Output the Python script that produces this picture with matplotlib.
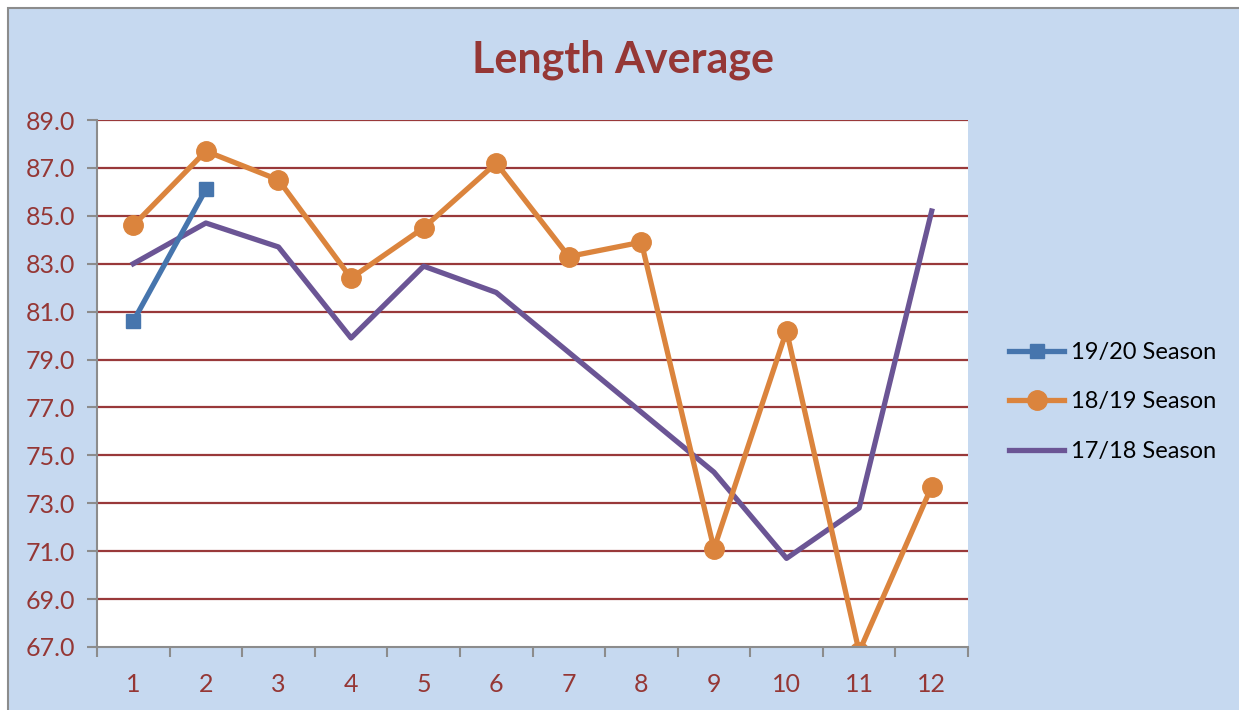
import matplotlib
matplotlib.use("Agg")
import matplotlib.pyplot as plt
from matplotlib.patches import Rectangle

months = list(range(1, 13))
s1920 = [80.6, 86.1]
s1819 = [84.6, 87.7, 86.5, 82.4, 84.5, 87.2, 83.3, 83.9, 71.1, 80.2, 66.8, 73.7]
s1718 = [83.0, 84.7, 83.7, 79.9, 82.9, 81.8, 79.3, 76.8, 74.3, 70.7, 72.8, 85.2]
yticks = [67, 69, 71, 73, 75, 77, 79, 81, 83, 85, 87, 89]

plt.rcParams['font.family'] = ['Lato', 'DejaVu Sans']

W, H = 1239, 710
fig = plt.figure(figsize=(W / 100, H / 100), dpi=100)
fig.patch.set_facecolor('white')
bg = Rectangle((8 / W, -0.01), 1.02, 1 - 8 / H + 0.01, transform=fig.transFigure,
               facecolor='#C6D9F0', edgecolor='#8C8C8C', linewidth=1.5, zorder=-10)
fig.patches.append(bg)

ax = fig.add_axes([97 / W, 1 - 647 / H, (968 - 97) / W, (647 - 120) / H])
ax.set_facecolor('white')

red = '#953735'
c_blue = '#4675AD'
c_orange = '#DB843D'
c_purple = '#6B5595'

for y in yticks[1:]:
    ax.axhline(y, color='#99393A', linewidth=1.6, zorder=1)

ax.plot(months[:len(s1920)], s1920, color=c_blue, lw=3.8, marker='s', ms=10.5,
        label='19/20 Season', zorder=5)
ax.plot(months, s1819, color=c_orange, lw=3.8, marker='o', ms=14,
        label='18/19 Season', zorder=4)
ax.plot(months, s1718, color=c_purple, lw=3.8, label='17/18 Season', zorder=3)

ax.set_xlim(0.5, 12.5)
ax.set_ylim(67, 89)
ax.set_yticks(yticks)
ax.set_yticklabels([f"{v:.1f}" for v in yticks])
ax.set_xticks(months)
ax.set_xticks([m + 0.5 for m in range(0, 13)], minor=True)
ax.tick_params(axis='x', which='major', length=0, pad=19, labelsize=18, labelcolor=red)
ax.tick_params(axis='x', which='minor', length=7, width=1.5, color='#8C8C8C', direction='out')
ax.tick_params(axis='y', which='major', length=7, width=1.5, color='#8C8C8C',
               direction='out', labelsize=18, labelcolor=red, pad=9)

for s in ['top', 'right']:
    ax.spines[s].set_visible(False)
for s in ['left', 'bottom']:
    ax.spines[s].set_color('#8C8C8C')
    ax.spines[s].set_linewidth(1.5)
    ax.spines[s].set_zorder(6)

fig.text(623 / W, 1 - 60 / H, 'Length Average', ha='center', va='center',
         fontsize=31, fontweight='bold', color=red)

leg = fig.legend(loc='center left', bbox_to_anchor=(1000 / W, 1 - 402 / H),
                 frameon=False, fontsize=17, handlelength=2.3, handletextpad=0.3,
                 labelspacing=1.2, borderaxespad=0)

fig.savefig('out.png', dpi=100)
